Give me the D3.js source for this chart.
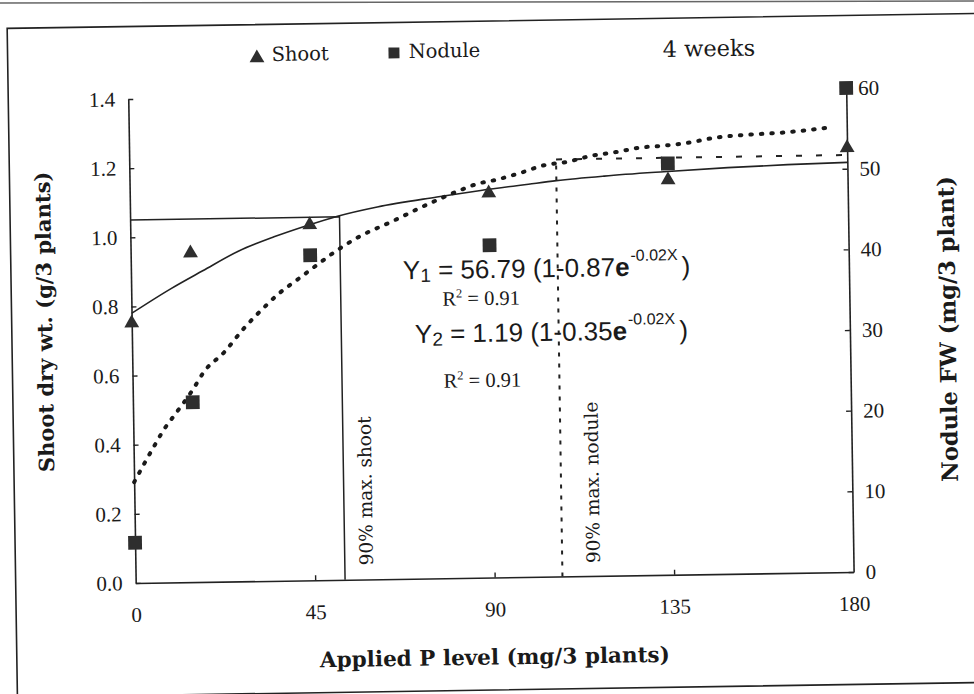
<!DOCTYPE html>
<html>
<head>
<meta charset="utf-8">
<script src="https://cdn.jsdelivr.net/npm/d3@7"></script>
<style>
  html, body { margin: 0; padding: 0; background: #fff; }
  svg { display: block; }
</style>
</head>
<body>
<svg id="chart" width="974" height="694"></svg>
<script>
// Applied P levels (mg/3 plants)
const pLevels = [0, 15, 45, 90, 135, 180];
// Shoot dry weight (g/3 plants) – left axis
const shootWt = [0.752, 0.952, 1.028, 1.112, 1.142, 1.227];
// Nodule fresh weight (mg/3 plant) – right axis
const noduleFw = [5.0, 22.3, 40.3, 41.2, 51.0, 60.0];

// Fitted shoot response, Y2 = 1.19 (1-0.35e^-0.02X)
const shootFitX = [0, 10, 18, 27, 36, 44, 52, 62, 77, 88, 100, 107, 119, 134, 150, 165, 180];
const shootFitY = [0.78, 0.85, 0.90, 0.955, 0.995, 1.025, 1.052, 1.077, 1.103, 1.120, 1.136, 1.145, 1.156, 1.166, 1.175, 1.181, 1.185];

// Fitted nodule response, Y1 = 56.79 (1-0.87e^-0.02X)
const noduleFitX = [0, 5, 8, 10, 15, 18, 23, 28, 33, 37, 42, 47, 51, 57, 59, 66, 72, 78, 83, 87, 92, 98, 104, 110, 116, 122, 128, 134, 140, 147, 155, 164, 175];
const noduleFitY = [12.5, 16.8, 19.2, 20.5, 23.8, 26.1, 28.4, 31.3, 33.8, 35.6, 37.4, 39.2, 40.6, 42.4, 42.9, 44.4, 45.8, 47.1, 48.1, 48.8, 49.3, 50.1, 51.0, 51.4, 52.1, 52.5, 53.0, 53.2, 53.5, 54.1, 54.4, 54.6, 55.1];

// 90% of maximum yield markers
const shoot90P = 52.5, shoot90Wt = 1.05;
const nodule90P = 107, nodule90Fw = 51.7;

// Axis ticks
const xTicks = [0, 45, 90, 135, 180];
const yLeftTicks = [0, 0.2, 0.4, 0.6, 0.8, 1.0, 1.2, 1.4];
const yRightTicks = [0, 10, 20, 30, 40, 50, 60];

const ink = "#222";
const markFill = "#2e2e2e";
const serif = "'DejaVu Serif', serif";
const numFont = "'Liberation Serif', 'Times New Roman', serif";
const sans = "'Liberation Sans', Arial, sans-serif";

const svg = d3.select("#chart");

// Rule along the top edge of the sheet
svg.append("line")
  .attr("x1", 0).attr("x2", 974).attr("y1", 3).attr("y2", 1)
  .attr("stroke", "#666").attr("stroke-width", 1.5);

// Whole figure sits slightly tilted on the sheet
const page = svg.append("g").attr("transform", "rotate(-0.88 492 340)");

// Scales
const x = d3.scaleLinear().domain([0, 180]).range([132, 850]);
const yL = d3.scaleLinear().domain([0, 1.4]).range([577.5, 93.5]);
const yR = d3.scaleLinear().domain([0, 60]).range([577.5, 93.5]);

// Frame around the figure
page.append("path")
  .attr("d", "M1000,21 H12 V690 H1000")
  .attr("fill", "none").attr("stroke", ink).attr("stroke-width", 1.6);

// Axes
function styleAxis(g) {
  g.select(".domain").attr("stroke", ink).attr("stroke-width", 1.6);
  g.selectAll(".tick line").attr("stroke", ink).attr("stroke-width", 1.4);
  g.selectAll(".tick text")
    .attr("fill", "#1a1a1a")
    .attr("font-family", numFont)
    .attr("font-size", 21);
}

page.append("g")
  .attr("transform", `translate(${x(0)},0)`)
  .call(d3.axisLeft(yL).tickValues(yLeftTicks).tickFormat(d3.format(".1f"))
    .tickSizeInner(-5).tickSizeOuter(0).tickPadding(13))
  .call(styleAxis);

page.append("g")
  .attr("transform", `translate(${x(180)},0)`)
  .call(d3.axisRight(yR).tickValues(yRightTicks).tickFormat(d3.format("d"))
    .tickSizeInner(-5).tickSizeOuter(0).tickPadding(12))
  .call(styleAxis);

page.append("g")
  .attr("transform", `translate(0,${yL(0)})`)
  .call(d3.axisBottom(x).tickValues(xTicks).tickFormat(d3.format("d"))
    .tickSizeInner(-5).tickSizeOuter(0).tickPadding(24))
  .call(styleAxis)
  .call(g => g.selectAll(".tick line").filter(d => d === 0 || d === 180).remove());

// 90% max. shoot guide (solid)
page.append("path")
  .attr("d", d3.line()([[x(0), yL(shoot90Wt)], [x(shoot90P), yL(shoot90Wt)], [x(shoot90P), yL(0)]]))
  .attr("fill", "none").attr("stroke", ink).attr("stroke-width", 1.5);

// 90% max. nodule guide (dotted vertical, dashed horizontal)
page.append("line")
  .attr("x1", x(nodule90P)).attr("x2", x(nodule90P))
  .attr("y1", yR(0)).attr("y2", yR(nodule90Fw))
  .attr("stroke", ink).attr("stroke-width", 2).attr("stroke-dasharray", "4 7");
page.append("line")
  .attr("x1", x(nodule90P)).attr("x2", x(180))
  .attr("y1", yR(nodule90Fw)).attr("y2", yR(nodule90Fw))
  .attr("stroke", ink).attr("stroke-width", 2).attr("stroke-dasharray", "6 14");

// Fitted curves
const shootLine = d3.line().x(d => x(d[0])).y(d => yL(d[1])).curve(d3.curveMonotoneX);
page.append("path")
  .datum(shootFitX.map((p, i) => [p, shootFitY[i]]))
  .attr("d", shootLine)
  .attr("fill", "none").attr("stroke", ink).attr("stroke-width", 1.6);

const noduleLine = d3.line().x(d => x(d[0])).y(d => yR(d[1])).curve(d3.curveMonotoneX);
page.append("path")
  .datum(noduleFitX.map((p, i) => [p, noduleFitY[i]]))
  .attr("d", noduleLine)
  .attr("fill", "none").attr("stroke", "#1a1a1a").attr("stroke-width", 4)
  .attr("stroke-linecap", "round").attr("stroke-dasharray", "1.5 9");

// Observed points
const tri = d3.symbol(d3.symbolTriangle, 95);
const sq = d3.symbol(d3.symbolSquare, 190);

page.append("g").selectAll("path")
  .data(pLevels.map((p, i) => [p, noduleFw[i]]))
  .join("path")
  .attr("d", sq)
  .attr("transform", d => `translate(${x(d[0])},${yR(d[1])})`)
  .attr("fill", markFill);

page.append("g").selectAll("path")
  .data(pLevels.map((p, i) => [p, shootWt[i]]))
  .join("path")
  .attr("d", tri)
  .attr("transform", d => `translate(${x(d[0])},${yL(d[1])})`)
  .attr("fill", markFill);

// Legend and title
page.append("path").attr("d", tri).attr("transform", "translate(261.3,54.4)").attr("fill", markFill);
page.append("text").attr("x", 276).attr("y", 57.6)
  .attr("font-family", serif).attr("font-size", 19.5).attr("fill", "#1a1a1a").text("Shoot");
page.append("path").attr("d", d3.symbol(d3.symbolSquare, 120)).attr("transform", "translate(398.4,51.5)").attr("fill", markFill);
page.append("text").attr("x", 413).attr("y", 56.7)
  .attr("font-family", serif).attr("font-size", 19.5).attr("fill", "#1a1a1a").text("Nodule");
page.append("text").attr("x", 667).attr("y", 59.6)
  .attr("font-family", serif).attr("font-size", 22.5).attr("fill", "#1a1a1a").text("4 weeks");

// Axis titles
page.append("text")
  .attr("transform", "translate(45,315) rotate(-90)")
  .attr("text-anchor", "middle").attr("dy", "0.35em")
  .attr("font-family", serif).attr("font-weight", "bold").attr("font-size", 21).attr("fill", "#1a1a1a")
  .text("Shoot dry wt. (g/3 plants)");
page.append("text")
  .attr("transform", "translate(948,336) rotate(-90)")
  .attr("text-anchor", "middle").attr("dy", "0.35em")
  .attr("font-family", serif).attr("font-weight", "bold").attr("font-size", 22.5).attr("fill", "#1a1a1a")
  .text("Nodule FW (mg/3 plant)");
page.append("text")
  .attr("x", 490).attr("y", 657)
  .attr("text-anchor", "middle").attr("dy", "0.35em")
  .attr("font-family", serif).attr("font-weight", "bold").attr("font-size", 21.5).attr("fill", "#1a1a1a")
  .text("Applied P level (mg/3 plants)");

// Guide labels
page.append("text")
  .attr("transform", "translate(363,489) rotate(-90)")
  .attr("text-anchor", "middle").attr("dy", "0.35em")
  .attr("font-family", serif).attr("font-size", 18.5).attr("fill", "#1a1a1a")
  .text("90% max. shoot");
page.append("text")
  .attr("transform", "translate(590,484) rotate(-90)")
  .attr("text-anchor", "middle").attr("dy", "0.35em")
  .attr("font-family", serif).attr("font-size", 18.5).attr("fill", "#1a1a1a")
  .text("90% max. nodule");

// Regression equations
function equation(x0, y0, name, coef, rate) {
  const t = page.append("text").attr("x", x0).attr("y", y0)
    .attr("font-family", sans).attr("font-size", 26).attr("fill", "#1a1a1a");
  t.append("tspan").text("Y");
  t.append("tspan").attr("font-size", 19).attr("dy", 3).text(name);
  t.append("tspan").attr("dy", -3).text(` = ${coef} (1-${rate}`);
  t.append("tspan").attr("font-weight", "bold").text("e");
  t.append("tspan").attr("font-size", 16).attr("dy", -15).attr("dx", 1).text("-0.02X");
  t.append("tspan").attr("dy", 15).attr("dx", 4).text(")");
}
function rSquared(x0, y0, val) {
  const t = page.append("text").attr("x", x0).attr("y", y0)
    .attr("font-family", numFont).attr("font-size", 20.5).attr("fill", "#1a1a1a");
  t.append("tspan").text("R");
  t.append("tspan").attr("font-size", 12.5).attr("dy", -8).text("2");
  t.append("tspan").attr("dy", 8).text(` = ${val}`);
}
equation(404, 278, "1", "56.79", "0.87");
rSquared(443, 305, "0.91");
equation(415, 341.8, "2", "1.19", "0.35");
rSquared(443, 387, "0.91");
</script>
</body>
</html>
